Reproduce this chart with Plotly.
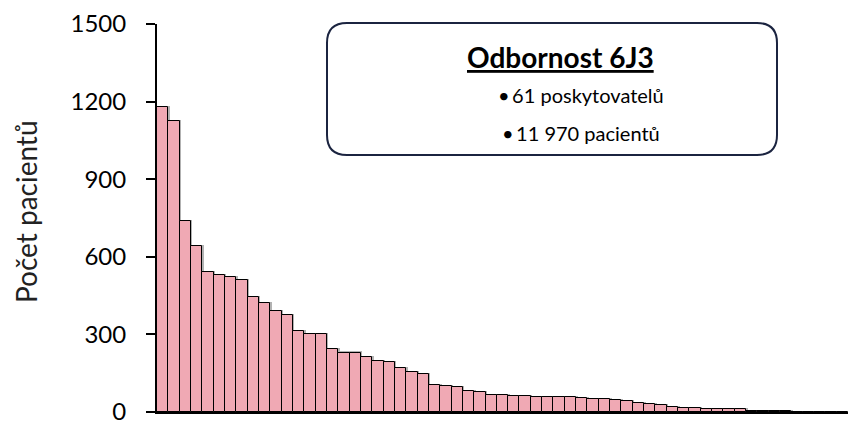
import plotly.graph_objects as go

# počet pacientů u jednotlivých poskytovatelů (seřazeno sestupně)
providers = list(range(1, 62))
patients = [1180, 1125, 740, 640, 540, 530, 520, 510, 445, 420,
            390, 375, 312, 300, 300, 245, 230, 230, 213, 198,
            193, 171, 154, 145, 103, 100, 95, 80, 76, 67,
            64, 62, 62, 59, 58, 58, 57, 54, 51, 49,
            47, 44, 33, 31, 28, 20, 17, 14, 13, 12,
            12, 10, 5, 3, 3, 2, 1, 0, 0, 0, 0]
y_ticks = [0, 300, 600, 900, 1200, 1500]

box_title = 'Odbornost 6J3'
box_lines = ['•\u200961 poskytovatelů', '•\u200911 970 pacientů']
y_title = 'Počet pacientů'

FONT = 'Lato'

fig = go.Figure()

# light shadow behind bars (Excel look)
fig.add_trace(go.Bar(
    x=providers, y=patients, base=4, offset=-0.37, width=1.0,
    marker=dict(color='rgba(0,0,0,0.30)', line=dict(width=0)),
    hoverinfo='skip', showlegend=False,
))
fig.add_trace(go.Bar(
    x=providers, y=patients,
    marker=dict(color='#F0A9B4', line=dict(color='#000000', width=1)),
    showlegend=False,
))

# rounded box in paper coords (plot area 691 x 388 px)
pw, ph = 691, 388
x0, x1 = (327 - 157) / pw, (777 - 157) / pw
y0, y1 = 1 - (155 - 24) / ph, 1 - (23 - 24) / ph
rx, ry = 20 / pw, 20 / ph
path = (f'M {x0+rx},{y1} L {x1-rx},{y1} Q {x1},{y1} {x1},{y1-ry} '
        f'L {x1},{y0+ry} Q {x1},{y0} {x1-rx},{y0} L {x0+rx},{y0} '
        f'Q {x0},{y0} {x0},{y0+ry} L {x0},{y1-ry} Q {x0},{y1} {x0+rx},{y1} Z')
fig.add_shape(type='path', path=path, xref='paper', yref='paper',
              line=dict(color='#1B2440', width=2), fillcolor='white', layer='above')

fig.add_annotation(text=f'<b><u>{box_title}</u></b>', xref='paper', yref='paper',
                   x=(560 - 157) / pw, y=1 - (57 - 24) / ph, xanchor='center', yanchor='middle',
                   showarrow=False, font=dict(family=FONT, size=28, color='black'))
for i, line in enumerate(box_lines):
    fig.add_annotation(text=line, xref='paper', yref='paper',
                       x=(581 - 157) / pw, y=1 - ((95 + 38 * i) - 24) / ph,
                       xanchor='center', yanchor='middle', showarrow=False,
                       font=dict(family=FONT, size=20, color='black'))

fig.add_annotation(text=y_title, xref='paper', yref='paper', textangle=-90,
                   x=(26 - 157) / pw, y=1 - (212 - 24) / ph, xanchor='center', yanchor='middle',
                   showarrow=False, font=dict(family=FONT, size=28, color='#222222'))

fig.update_layout(
    width=848, height=424,
    margin=dict(l=157, r=0, t=24, b=12),
    plot_bgcolor='white', paper_bgcolor='white',
    bargap=0, barmode='overlay',
    font=dict(family=FONT, color='black'),
    xaxis=dict(
        type='category', range=[-0.5, 60.5],
        showticklabels=False, ticks='', showgrid=False, zeroline=False,
        showline=True, linecolor='black', linewidth=2,
    ),
    yaxis=dict(
        range=[0, 1500], tickvals=y_ticks, ticks='outside', ticklen=9, tickwidth=2,
        tickcolor='black', showgrid=False, zeroline=False,
        showline=True, linecolor='black', linewidth=2,
        tickfont=dict(family=FONT, size=24, color='black'), ticklabelstandoff=15,
        ticklabeloverflow='allow', automargin=False,
    ),
)

fig.write_html('out.html', config={'displayModeBar': False},
               post_script="document.body.style.margin='0px';document.body.style.overflow='hidden';")
